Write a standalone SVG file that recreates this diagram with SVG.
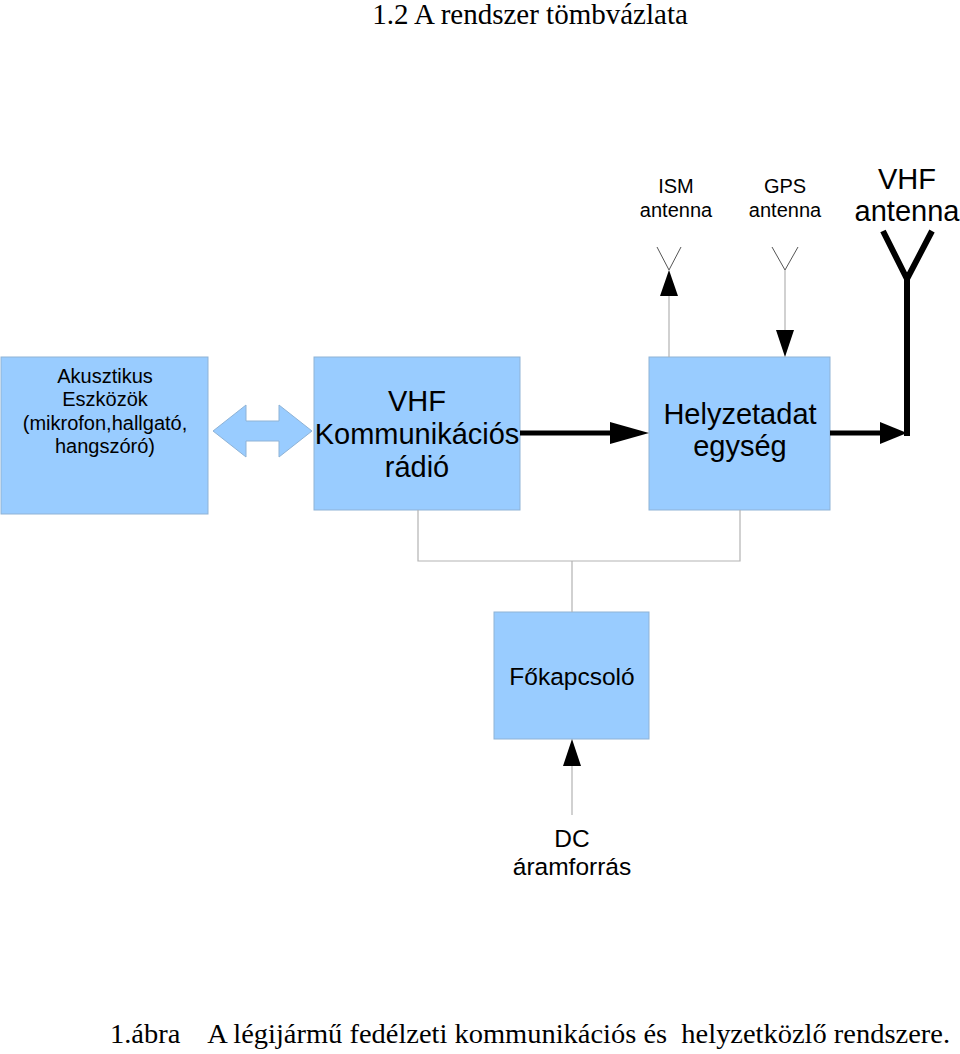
<svg xmlns="http://www.w3.org/2000/svg" width="960" height="1054" viewBox="0 0 960 1054">
<style>
.box{fill:#99ccff;stroke:#8fb3d6;stroke-width:1}
.s{font-family:"Liberation Sans",Arial,sans-serif;fill:#000;text-anchor:middle}
.serif{font-family:"Liberation Serif","Times New Roman",serif;fill:#000}
.thin{stroke:#b3b3b3;stroke-width:1.2;fill:none}
.ant{stroke:#555;stroke-width:1;fill:none}
.thick{stroke:#000;stroke-width:5;fill:none}
</style>
<rect width="960" height="1054" fill="#fff"/>
<text class="serif" x="530" y="24" font-size="29" text-anchor="middle">1.2 A rendszer tömbvázlata</text>
<g id="akusztikus">
<rect class="box" x="1" y="357" width="207" height="157"/>
<text class="s" font-size="20"><tspan x="105" y="383">Akusztikus</tspan><tspan x="105" y="406">Eszközök</tspan><tspan x="105" y="430">(mikrofon,hallgató,</tspan><tspan x="105" y="453">hangszóró)</tspan></text>
</g>
<g id="vhf-radio">
<rect class="box" x="314" y="357" width="206" height="153"/>
<text class="s" font-size="29"><tspan x="417" y="411">VHF</tspan><tspan x="417" y="444">Kommunikációs</tspan><tspan x="417" y="477">rádió</tspan></text>
</g>
<g id="helyzetadat">
<rect class="box" x="649" y="357" width="181" height="153"/>
<text class="s" font-size="29"><tspan x="740" y="424">Helyzetadat</tspan><tspan x="740" y="456">egység</tspan></text>
</g>
<g id="fokapcsolo">
<rect class="box" x="494" y="612" width="155" height="127"/>
<text class="s" font-size="24.5" x="572" y="685">Főkapcsoló</text>
</g>
<g id="ism-antenna">
<path class="ant" d="M657,247 L669,270 L681,247"/>
<text class="s" font-size="20"><tspan x="676" y="193">ISM</tspan><tspan x="676" y="217">antenna</tspan></text>
</g>
<g id="gps-antenna">
<path class="ant" d="M772,247 L785,270 L798,247"/>
<text class="s" font-size="20"><tspan x="785" y="193">GPS</tspan><tspan x="785" y="217">antenna</tspan></text>
</g>
<g id="vhf-antenna">
<path d="M883,231 L907,279 L932,231" stroke="#000" stroke-width="6" fill="none"/>
<text class="s" font-size="29"><tspan x="907" y="189">VHF</tspan><tspan x="907" y="221">antenna</tspan></text>
</g>
<g id="dc">
<text class="s" font-size="24.5"><tspan x="572" y="847">DC</tspan><tspan x="572" y="875">áramforrás</tspan></text>
</g>
<g id="connectors">
<path d="M213,431 L246,405 L246,421 L279,421 L279,405 L312,431 L279,457 L279,441 L246,441 L246,457 Z" fill="#99ccff" stroke="#8fb3d6" stroke-width="1"/>
<line class="thick" x1="520" y1="433" x2="612" y2="433"/>
<path d="M649,433 L610,422 L610,444 Z" fill="#000"/>
<line class="thick" x1="830" y1="433" x2="882" y2="433"/>
<path d="M907,433 L880,422 L880,444 Z" fill="#000"/>
<line x1="907" y1="279" x2="907" y2="436" stroke="#000" stroke-width="6"/>
<line class="thin" x1="669" y1="357" x2="669" y2="294"/>
<path d="M669,270 L660,296 L678,296 Z" fill="#000"/>
<line class="thin" x1="785" y1="270" x2="785" y2="332"/>
<path d="M785,357 L776,330 L794,330 Z" fill="#000"/>
<path class="thin" d="M418,510 L418,561 L740,561 L740,510"/>
<line class="thin" x1="572" y1="561" x2="572" y2="612"/>
<line class="thin" x1="572" y1="815" x2="572" y2="764"/>
<path d="M572,739 L563,766 L581,766 Z" fill="#000"/>
</g>
<text class="serif" x="110" y="1043" font-size="28" textLength="840" lengthAdjust="spacingAndGlyphs" xml:space="preserve">1.ábra    A légijármű fedélzeti kommunikációs és  helyzetközlő rendszere.</text>
</svg>
